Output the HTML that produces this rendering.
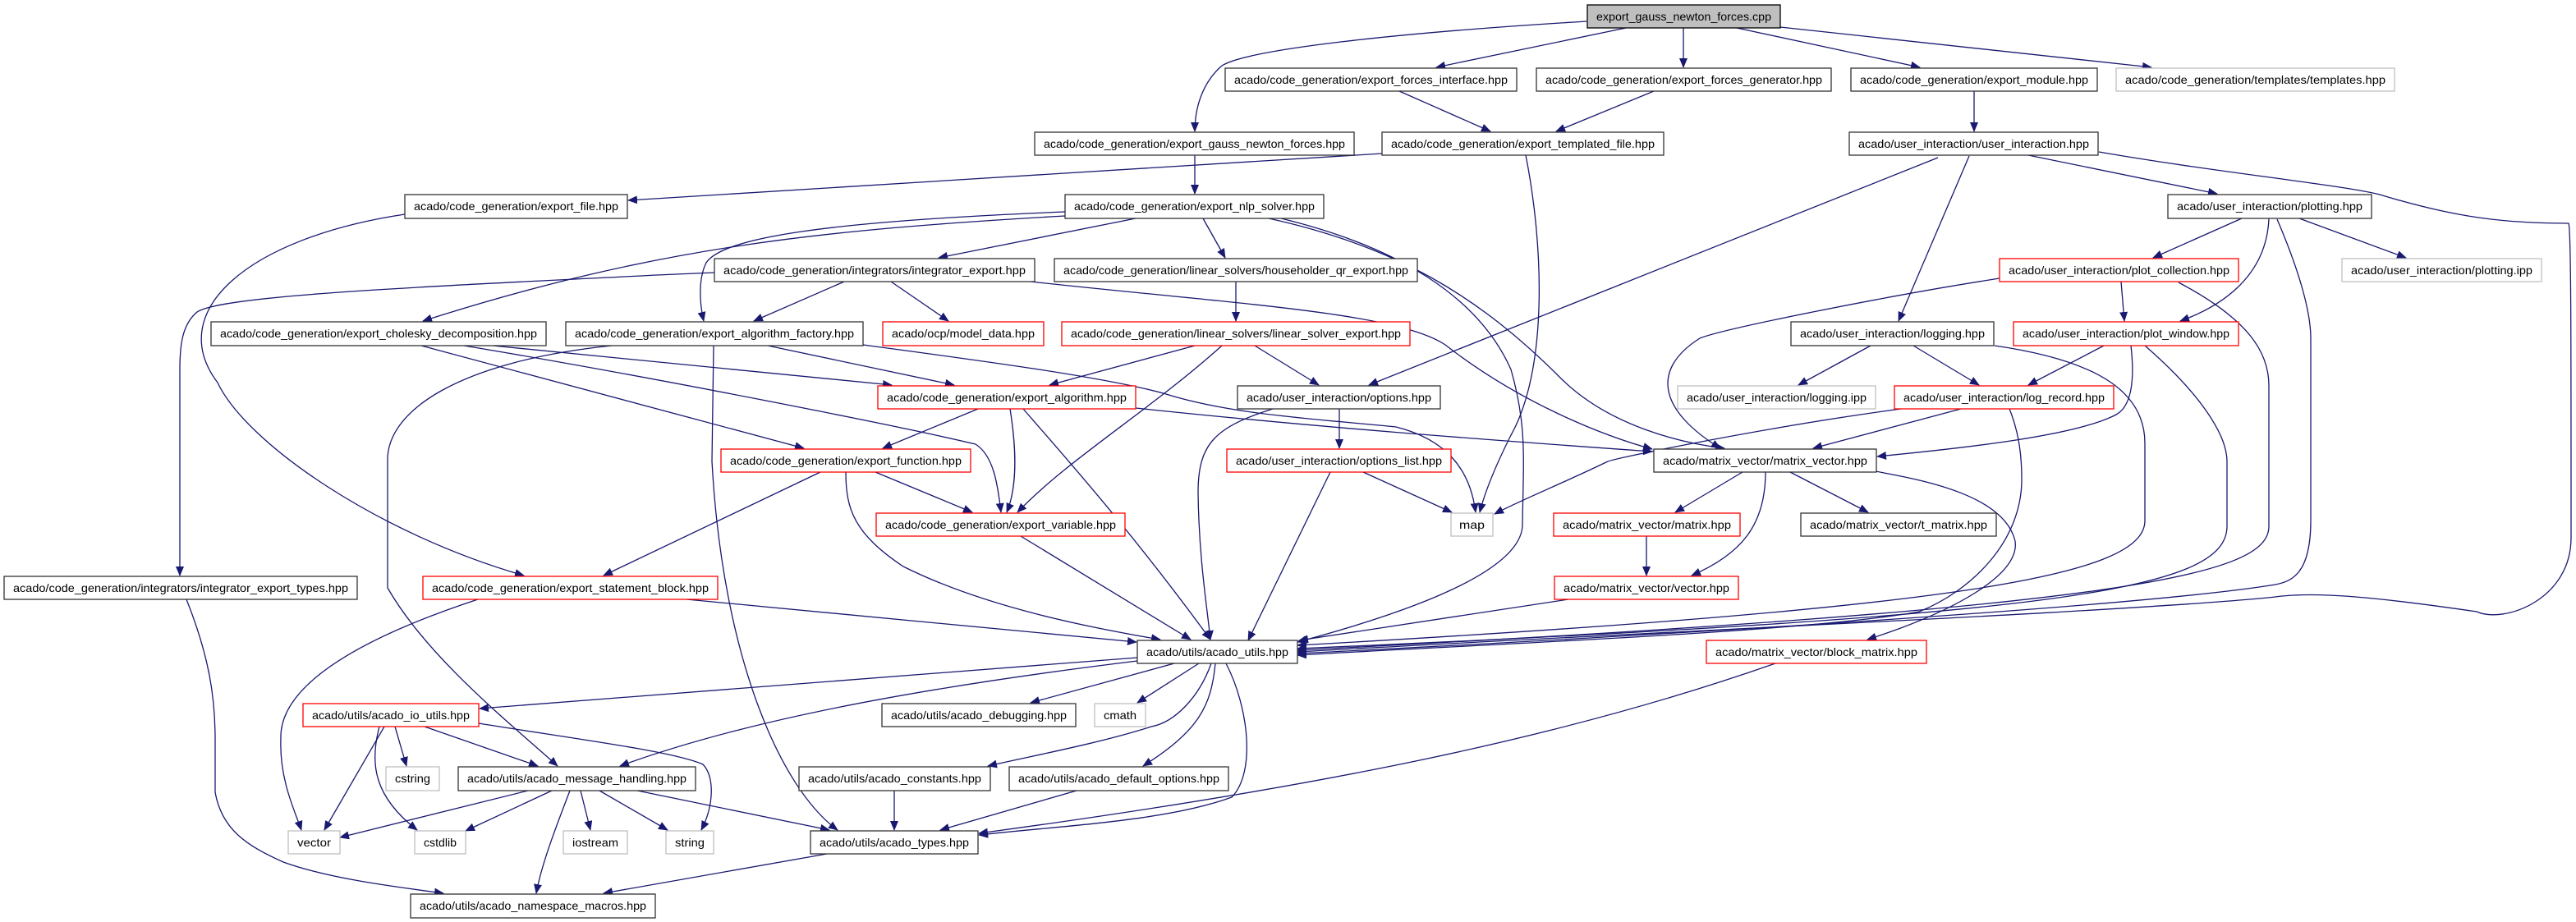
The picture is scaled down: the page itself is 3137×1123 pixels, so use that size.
<!DOCTYPE html>
<html><head><meta charset="utf-8"><style>
html,body{margin:0;padding:0;background:#fff;}
svg{display:block;}
text{font-family:"Liberation Sans",sans-serif;font-size:14px;fill:#000;}
.e{fill:none;stroke:#191970;stroke-width:1.3;}
.n{fill:#fff;stroke:#333;stroke-width:1.3;}
.r{fill:#fff;stroke:#ff0000;stroke-width:1.3;}
.g{fill:#fff;stroke:#bfbfbf;stroke-width:1.3;}
</style></head><body>
<svg width="3137" height="1123" viewBox="0 0 3137 1123" xmlns="http://www.w3.org/2000/svg">
<defs><marker id="a" markerWidth="12" markerHeight="10" refX="11" refY="5" orient="auto" markerUnits="userSpaceOnUse"><path d="M0,0 L12,5 L0,10 Z" fill="#191970"/></marker></defs>
<g class="e" marker-end="url(#a)">
<path d="M1932,26 C1700,40 1520,60 1488,80 C1465,100 1455,130 1455,160"/>
<path d="M1980,34 L1749,82"/>
<path d="M2050,34 L2050,82"/>
<path d="M2115,34 L2338,82"/>
<path d="M2168,33 L2620,82"/>
<path d="M1704,111 L1815,160"/>
<path d="M2014,111 L1895,160"/>
<path d="M2404,111 L2404,160"/>
<path d="M1455,189 L1455,236"/>
<path d="M1683,187 L765,244"/>
<path d="M1858,189 C1880,300 1885,450 1840,530 C1820,570 1808,600 1802,624"/>
<path d="M1297,263 C1000,280 800,300 515,391"/>
<path d="M1297,258 C1000,270 880,290 860,320 C850,340 852,370 857,391"/>
<path d="M1383,266 L1143,314"/>
<path d="M1465,266 L1492,314"/>
<path d="M1545,266 C1700,300 1800,360 1900,460 C1960,520 2050,540 2100,546"/>
<path d="M1560,266 C1700,300 1800,360 1840,450 C1860,520 1855,560 1854,641 C1850,700 1700,750 1580,782"/>
<path d="M870,332 L800,335 C500,350 270,360 240,380 C222,395 219,420 219,450 L219,701"/>
<path d="M1028,343 L918,391"/>
<path d="M1085,343 L1155,391"/>
<path d="M1255,343 C1500,370 1700,380 1760,420 C1850,490 1950,530 2012,547"/>
<path d="M493,261 C300,290 200,380 265,466 C300,540 460,650 638,701"/>
<path d="M600,421 L1086,469"/>
<path d="M513,421 L979,546"/>
<path d="M565,421 C800,460 1100,520 1188,541 C1210,555 1215,590 1219,624"/>
<path d="M935,421 L1162,469"/>
<path d="M1051,420 C1200,440 1350,460 1420,480 C1500,505 1600,510 1700,520 C1760,535 1790,570 1797,624"/>
<path d="M869,421 L867,562 C880,800 950,960 1020,1011"/>
<path d="M745,421 C560,440 470,500 472,562 L472,716 C520,800 620,880 679,933"/>
<path d="M1505,343 L1505,391"/>
<path d="M1455,421 L1278,469"/>
<path d="M1488,421 C1400,500 1300,560 1239,624"/>
<path d="M1528,421 L1606,469"/>
<path d="M1191,498 L1075,546"/>
<path d="M1230,498 C1240,560 1236,600 1226,624"/>
<path d="M1246,498 C1300,560 1380,650 1474,779"/>
<path d="M1383,497 C1600,520 1800,535 2012,550"/>
<path d="M1631,498 L1631,546"/>
<path d="M1550,498 C1480,520 1459,540 1459,600 C1460,680 1470,740 1474,779"/>
<path d="M999,575 L735,701"/>
<path d="M1066,575 L1184,624"/>
<path d="M1030,575 C1030,620 1040,650 1100,690 C1200,740 1330,765 1413,779"/>
<path d="M1660,575 L1768,624"/>
<path d="M1620,575 L1520,780"/>
<path d="M2360,192 L1667,469"/>
<path d="M2398,190 L2312,391"/>
<path d="M2470,189 L2700,236"/>
<path d="M2556,185 C2700,210 2850,225 2898,237 C2990,265 3050,272 3128,272 C3131,280 3131,400 3131,655 C3131,730 3050,760 3016,745 C2900,728 2820,720 2771,727 C2600,745 2000,770 1580,794"/>
<path d="M2730,266 L2622,314"/>
<path d="M2763,266 C2760,340 2700,375 2655,391"/>
<path d="M2800,266 L2930,314"/>
<path d="M2773,267 C2800,330 2814,380 2814,412 L2814,634 C2814,700 2790,708 2771,712 C2600,740 2000,775 1580,796"/>
<path d="M2583,343 L2587,391"/>
<path d="M2435,339 C2300,360 2100,400 2070,412 C2010,450 2020,500 2095,546"/>
<path d="M2653,344 C2740,390 2763,430 2763,470 L2763,641 C2763,700 2600,740 1580,792"/>
<path d="M2562,421 L2470,469"/>
<path d="M2595,421 C2600,465 2595,495 2577,505 C2530,530 2400,545 2286,556"/>
<path d="M2612,421 C2680,480 2712,530 2712,562 L2712,641 C2712,720 2500,750 1580,790"/>
<path d="M2278,421 L2190,469"/>
<path d="M2330,421 L2410,469"/>
<path d="M2429,421 C2560,440 2612,480 2612,540 L2612,634 C2612,700 2400,740 1580,786"/>
<path d="M2315,498 C2150,520 1958,560 1958,562 C1900,590 1850,610 1820,626"/>
<path d="M2388,498 L2208,546"/>
<path d="M2447,498 C2460,530 2462,560 2462,584 C2462,660 2400,720 2337,745 C2200,770 1800,785 1580,798"/>
<path d="M2122,575 L2040,624"/>
<path d="M2150,575 C2150,640 2120,675 2060,701"/>
<path d="M2180,575 L2275,624"/>
<path d="M2284,574 C2330,583 2440,600 2454,659 C2460,700 2380,745 2274,779"/>
<path d="M2005,653 L2005,701"/>
<path d="M1910,730 L1582,780"/>
<path d="M2162,808 C1900,900 1600,960 1192,1015"/>
<path d="M836,730 L1384,782"/>
<path d="M582,730 C400,790 340,849 342,900 C340,950 360,990 367,1011"/>
<path d="M1385,801 L584,863"/>
<path d="M1385,805 C1100,840 900,880 755,933"/>
<path d="M1430,808 L1255,856"/>
<path d="M1460,808 L1385,856"/>
<path d="M1475,808 C1460,850 1430,880 1402,885 C1340,905 1260,920 1203,933"/>
<path d="M1480,808 C1475,860 1460,890 1392,933"/>
<path d="M1493,808 C1520,860 1530,940 1500,971 C1420,1000 1300,1005 1192,1017"/>
<path d="M468,885 L395,1011"/>
<path d="M481,885 L495,933"/>
<path d="M462,885 C450,930 455,970 508,1011"/>
<path d="M517,885 L655,933"/>
<path d="M583,881 C700,900 820,915 856,931 C870,945 870,980 854,1011"/>
<path d="M643,963 L414,1020"/>
<path d="M672,963 L567,1012"/>
<path d="M694,963 C680,1000 660,1050 653,1088"/>
<path d="M707,963 L719,1011"/>
<path d="M730,963 L813,1011"/>
<path d="M776,963 L1010,1011"/>
<path d="M1089,963 L1089,1011"/>
<path d="M1311,963 L1145,1011"/>
<path d="M1007,1040 L735,1088"/>
<path d="M227,730 C255,800 262,850 262,900 L262,965 C270,1010 300,1030 345,1050 C400,1070 480,1080 540,1088"/>
<path d="M1243,653 L1450,779"/>
</g>
<g>
<rect x="1933" y="6" width="235" height="28" fill="#bfbfbf" stroke="#000" stroke-width="1.3"/><text x="1944" y="25" textLength="213" lengthAdjust="spacingAndGlyphs">export_gauss_newton_forces.cpp</text>
</g>
<g id="nodes"></g>
<g>
<rect class="n" x="1492" y="83" width="355" height="28"/><text x="1503" y="102" textLength="333" lengthAdjust="spacingAndGlyphs">acado/code_generation/export_forces_interface.hpp</text>
<rect class="n" x="1871" y="83" width="359" height="28"/><text x="1882" y="102" textLength="337" lengthAdjust="spacingAndGlyphs">acado/code_generation/export_forces_generator.hpp</text>
<rect class="n" x="2254" y="83" width="300" height="28"/><text x="2265" y="102" textLength="278" lengthAdjust="spacingAndGlyphs">acado/code_generation/export_module.hpp</text>
<rect class="g" x="2577" y="83" width="339" height="28"/><text x="2588" y="102" textLength="317" lengthAdjust="spacingAndGlyphs">acado/code_generation/templates/templates.hpp</text>
<rect class="n" x="1260" y="161" width="389" height="28"/><text x="1271" y="180" textLength="367" lengthAdjust="spacingAndGlyphs">acado/code_generation/export_gauss_newton_forces.hpp</text>
<rect class="n" x="1683" y="161" width="343" height="28"/><text x="1694" y="180" textLength="321" lengthAdjust="spacingAndGlyphs">acado/code_generation/export_templated_file.hpp</text>
<rect class="n" x="2252" y="161" width="303" height="28"/><text x="2263" y="180" textLength="281" lengthAdjust="spacingAndGlyphs">acado/user_interaction/user_interaction.hpp</text>
<rect class="n" x="493" y="237" width="271" height="29"/><text x="504" y="256" textLength="249" lengthAdjust="spacingAndGlyphs">acado/code_generation/export_file.hpp</text>
<rect class="n" x="1297" y="237" width="315" height="29"/><text x="1308" y="256" textLength="293" lengthAdjust="spacingAndGlyphs">acado/code_generation/export_nlp_solver.hpp</text>
<rect class="n" x="2640" y="237" width="248" height="29"/><text x="2651" y="256" textLength="226" lengthAdjust="spacingAndGlyphs">acado/user_interaction/plotting.hpp</text>
<rect class="n" x="870" y="315" width="390" height="28"/><text x="881" y="334" textLength="368" lengthAdjust="spacingAndGlyphs">acado/code_generation/integrators/integrator_export.hpp</text>
<rect class="n" x="1284" y="315" width="442" height="28"/><text x="1295" y="334" textLength="420" lengthAdjust="spacingAndGlyphs">acado/code_generation/linear_solvers/householder_qr_export.hpp</text>
<rect class="r" x="2435" y="315" width="291" height="28"/><text x="2446" y="334" textLength="269" lengthAdjust="spacingAndGlyphs">acado/user_interaction/plot_collection.hpp</text>
<rect class="g" x="2852" y="315" width="243" height="28"/><text x="2863" y="334" textLength="221" lengthAdjust="spacingAndGlyphs">acado/user_interaction/plotting.ipp</text>
<rect class="n" x="257" y="392" width="408" height="29"/><text x="268" y="411" textLength="386" lengthAdjust="spacingAndGlyphs">acado/code_generation/export_cholesky_decomposition.hpp</text>
<rect class="n" x="689" y="392" width="362" height="29"/><text x="700" y="411" textLength="340" lengthAdjust="spacingAndGlyphs">acado/code_generation/export_algorithm_factory.hpp</text>
<rect class="r" x="1075" y="392" width="196" height="29"/><text x="1086" y="411" textLength="174" lengthAdjust="spacingAndGlyphs">acado/ocp/model_data.hpp</text>
<rect class="r" x="1293" y="392" width="424" height="29"/><text x="1304" y="411" textLength="402" lengthAdjust="spacingAndGlyphs">acado/code_generation/linear_solvers/linear_solver_export.hpp</text>
<rect class="n" x="2181" y="392" width="247" height="29"/><text x="2192" y="411" textLength="225" lengthAdjust="spacingAndGlyphs">acado/user_interaction/logging.hpp</text>
<rect class="r" x="2452" y="392" width="274" height="29"/><text x="2463" y="411" textLength="252" lengthAdjust="spacingAndGlyphs">acado/user_interaction/plot_window.hpp</text>
<rect class="r" x="1069" y="470" width="314" height="28"/><text x="1080" y="489" textLength="292" lengthAdjust="spacingAndGlyphs">acado/code_generation/export_algorithm.hpp</text>
<rect class="n" x="1507" y="470" width="247" height="28"/><text x="1518" y="489" textLength="225" lengthAdjust="spacingAndGlyphs">acado/user_interaction/options.hpp</text>
<rect class="g" x="2043" y="470" width="241" height="28"/><text x="2054" y="489" textLength="219" lengthAdjust="spacingAndGlyphs">acado/user_interaction/logging.ipp</text>
<rect class="r" x="2307" y="470" width="267" height="28"/><text x="2318" y="489" textLength="245" lengthAdjust="spacingAndGlyphs">acado/user_interaction/log_record.hpp</text>
<rect class="r" x="878" y="547" width="304" height="28"/><text x="889" y="566" textLength="282" lengthAdjust="spacingAndGlyphs">acado/code_generation/export_function.hpp</text>
<rect class="r" x="1494" y="547" width="273" height="28"/><text x="1505" y="566" textLength="251" lengthAdjust="spacingAndGlyphs">acado/user_interaction/options_list.hpp</text>
<rect class="n" x="2014" y="547" width="271" height="28"/><text x="2025" y="566" textLength="249" lengthAdjust="spacingAndGlyphs">acado/matrix_vector/matrix_vector.hpp</text>
<rect class="r" x="1067" y="625" width="303" height="28"/><text x="1078" y="644" textLength="281" lengthAdjust="spacingAndGlyphs">acado/code_generation/export_variable.hpp</text>
<rect class="g" x="1767" y="625" width="51" height="28"/><text x="1777" y="644" textLength="31" lengthAdjust="spacingAndGlyphs">map</text>
<rect class="r" x="1892" y="625" width="227" height="28"/><text x="1903" y="644" textLength="205" lengthAdjust="spacingAndGlyphs">acado/matrix_vector/matrix.hpp</text>
<rect class="n" x="2193" y="625" width="238" height="28"/><text x="2204" y="644" textLength="216" lengthAdjust="spacingAndGlyphs">acado/matrix_vector/t_matrix.hpp</text>
<rect class="n" x="5" y="702" width="430" height="28"/><text x="16" y="721" textLength="408" lengthAdjust="spacingAndGlyphs">acado/code_generation/integrators/integrator_export_types.hpp</text>
<rect class="r" x="515" y="702" width="359" height="28"/><text x="526" y="721" textLength="337" lengthAdjust="spacingAndGlyphs">acado/code_generation/export_statement_block.hpp</text>
<rect class="r" x="1893" y="702" width="224" height="28"/><text x="1904" y="721" textLength="202" lengthAdjust="spacingAndGlyphs">acado/matrix_vector/vector.hpp</text>
<rect class="n" x="1385" y="780" width="195" height="28"/><text x="1396" y="799" textLength="173" lengthAdjust="spacingAndGlyphs">acado/utils/acado_utils.hpp</text>
<rect class="r" x="2078" y="780" width="268" height="28"/><text x="2089" y="799" textLength="246" lengthAdjust="spacingAndGlyphs">acado/matrix_vector/block_matrix.hpp</text>
<rect class="r" x="369" y="857" width="214" height="28"/><text x="380" y="876" textLength="192" lengthAdjust="spacingAndGlyphs">acado/utils/acado_io_utils.hpp</text>
<rect class="n" x="1074" y="857" width="236" height="28"/><text x="1085" y="876" textLength="214" lengthAdjust="spacingAndGlyphs">acado/utils/acado_debugging.hpp</text>
<rect class="g" x="1333" y="857" width="62" height="28"/><text x="1344" y="876" textLength="40" lengthAdjust="spacingAndGlyphs">cmath</text>
<rect class="g" x="470" y="934" width="65" height="29"/><text x="481" y="953" textLength="43" lengthAdjust="spacingAndGlyphs">cstring</text>
<rect class="n" x="558" y="934" width="289" height="29"/><text x="569" y="953" textLength="267" lengthAdjust="spacingAndGlyphs">acado/utils/acado_message_handling.hpp</text>
<rect class="n" x="973" y="934" width="233" height="29"/><text x="984" y="953" textLength="211" lengthAdjust="spacingAndGlyphs">acado/utils/acado_constants.hpp</text>
<rect class="n" x="1229" y="934" width="267" height="29"/><text x="1240" y="953" textLength="245" lengthAdjust="spacingAndGlyphs">acado/utils/acado_default_options.hpp</text>
<rect class="g" x="351" y="1012" width="63" height="28"/><text x="362" y="1031" textLength="41" lengthAdjust="spacingAndGlyphs">vector</text>
<rect class="g" x="505" y="1012" width="62" height="28"/><text x="516" y="1031" textLength="40" lengthAdjust="spacingAndGlyphs">cstdlib</text>
<rect class="g" x="686" y="1012" width="78" height="28"/><text x="697" y="1031" textLength="56" lengthAdjust="spacingAndGlyphs">iostream</text>
<rect class="g" x="811" y="1012" width="58" height="28"/><text x="822" y="1031" textLength="36" lengthAdjust="spacingAndGlyphs">string</text>
<rect class="n" x="987" y="1012" width="204" height="28"/><text x="998" y="1031" textLength="182" lengthAdjust="spacingAndGlyphs">acado/utils/acado_types.hpp</text>
<rect class="n" x="500" y="1089" width="298" height="29"/><text x="511" y="1108" textLength="276" lengthAdjust="spacingAndGlyphs">acado/utils/acado_namespace_macros.hpp</text>
</g>
</svg>
</body></html>
